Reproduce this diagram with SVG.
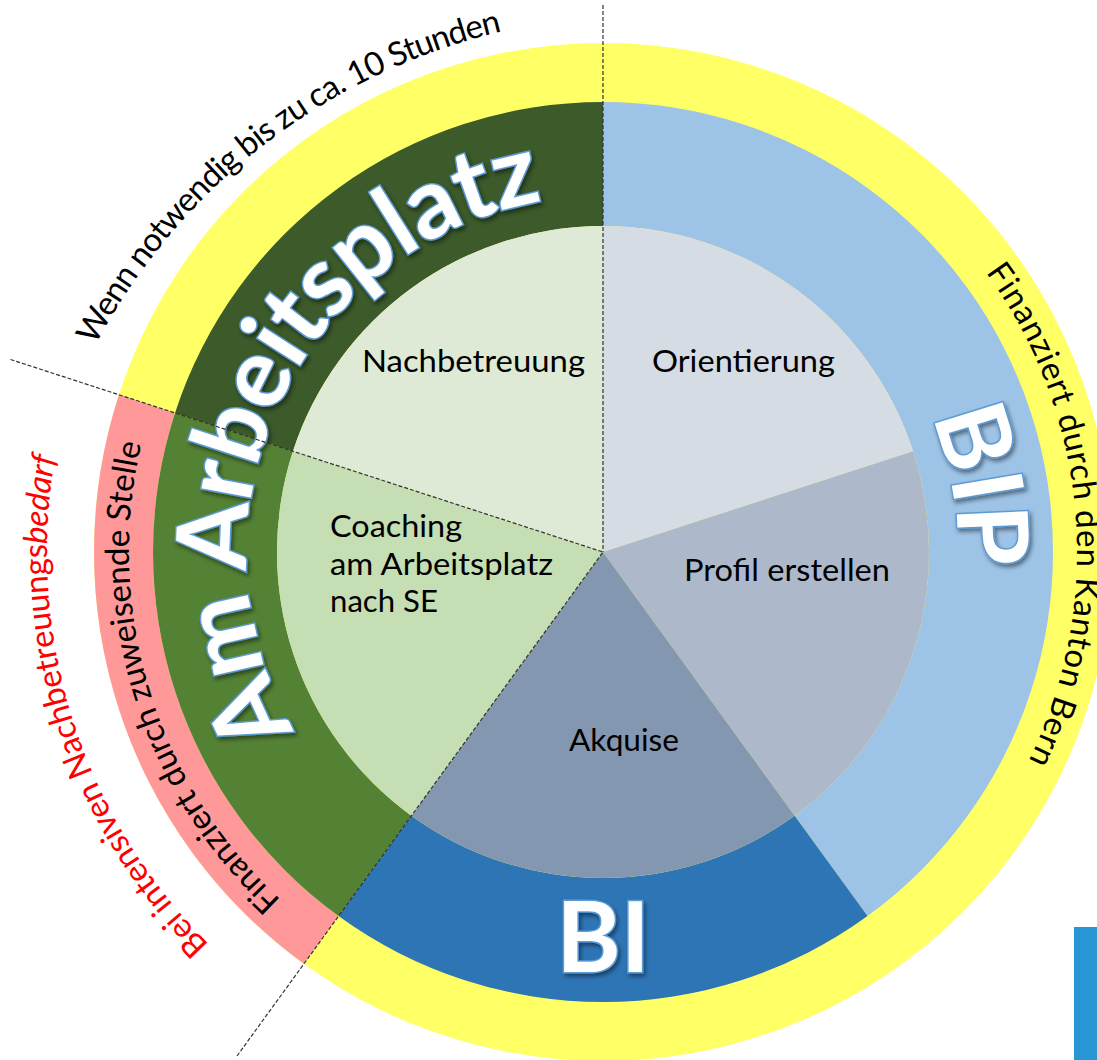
<svg xmlns="http://www.w3.org/2000/svg" width="1097" height="1060" viewBox="0 0 1097 1060">
<defs>
<style>
.lbl{font-family:Lato,"Open Sans","Liberation Sans",sans-serif;font-size:31px;fill:#000}
.arc{font-family:Lato,"Open Sans","Liberation Sans",sans-serif;font-size:33px}
.big{font-family:Lato,"Open Sans","Liberation Sans",sans-serif;font-weight:700;font-size:98px;fill:#fff;stroke:#5B9BD5;stroke-width:3;paint-order:stroke;filter:url(#sh)}
.dash{fill:none;stroke:#333;stroke-width:1.2;stroke-dasharray:4 2}
</style>
<filter id="sh" x="-20%" y="-20%" width="140%" height="140%">
<feDropShadow dx="2" dy="3" stdDeviation="2" flood-color="#000" flood-opacity="0.45"/>
</filter>
<path id="pTop" d="M28.1,556.7 A621,621 0 0 1 723.3,20.1"/>
<path id="pBei" d="M346.27,1045.18 A556,556 0 0 1 109.82,295.27"/>
<path id="pZuw" d="M380.47,970.52 A474,474 0 0 1 184.48,329.47"/>
<path id="pKan" d="M907.68,188.90 A474,474 0 0 1 966.10,856.68"/>
<path id="pAm" d="M330.29,780.83 A356,356 0 0 1 621.63,196.49"/>
<path id="pBIP" d="M806.62,261.20 A355,355 0 0 1 893.80,755.62"/>
</defs>

<g id="outer-ring">
<circle cx="603" cy="552" r="509" fill="#FFFF66"/>
<path d="M303.81,963.79 A509,509 0 0 1 118.91,394.71 L175.02,412.94 A450,450 0 0 0 338.49,916.06 Z" fill="#FF9999"/>
</g>

<g id="ring-bip">
<path d="M603,102 A450,450 0 0 1 867.51,916.06 L794.62,815.74 A326,326 0 0 0 603,226 Z" fill="#9DC3E6"/>
</g>
<g id="ring-bi">
<path d="M867.51,916.06 A450,450 0 0 1 338.49,916.06 L411.38,815.74 A326,326 0 0 0 794.62,815.74 Z" fill="#2E75B6"/>
</g>
<g id="ring-am-arbeitsplatz">
<path d="M338.49,916.06 A450,450 0 0 1 175.02,412.94 L292.95,451.26 A326,326 0 0 0 411.38,815.74 Z" fill="#548235"/>
<path d="M175.02,412.94 A450,450 0 0 1 603,102 L603,226 A326,326 0 0 0 292.95,451.26 Z" fill="#3C5A2A"/>
</g>

<g id="node-orientierung">
<path d="M603,552 L603,226 A326,326 0 0 1 913.05,451.26 Z" fill="#D5DCE4"/>
<text class="lbl" x="652" y="372" textLength="183" lengthAdjust="spacingAndGlyphs">Orientierung</text>
</g>
<g id="node-profil">
<path d="M603,552 L913.05,451.26 A326,326 0 0 1 794.62,815.74 Z" fill="#ADB9CA"/>
<text class="lbl" x="684" y="581" textLength="206" lengthAdjust="spacingAndGlyphs">Profil erstellen</text>
</g>
<g id="node-akquise">
<path d="M603,552 L794.62,815.74 A326,326 0 0 1 411.38,815.74 Z" fill="#8497B0"/>
<text class="lbl" x="569" y="751" textLength="110" lengthAdjust="spacingAndGlyphs">Akquise</text>
</g>
<g id="node-coaching">
<path d="M603,552 L411.38,815.74 A326,326 0 0 1 292.95,451.26 Z" fill="#C5DEB4"/>
<text class="lbl" x="330" y="537" textLength="132" lengthAdjust="spacingAndGlyphs">Coaching</text>
<text class="lbl" x="330" y="575" textLength="223" lengthAdjust="spacingAndGlyphs">am Arbeitsplatz</text>
<text class="lbl" x="330" y="612" textLength="108" lengthAdjust="spacingAndGlyphs">nach SE</text>
</g>
<g id="node-nachbetreuung">
<path d="M603,552 L292.95,451.26 A326,326 0 0 1 603,226 Z" fill="#DEEAD5"/>
<text class="lbl" x="362" y="372" textLength="223" lengthAdjust="spacingAndGlyphs">Nachbetreuung</text>
</g>

<g id="big-labels">
<text class="big"><textPath href="#pAm" startOffset="49%" text-anchor="middle" textLength="686" lengthAdjust="spacing">Am Arbeitsplatz</textPath></text>
<text class="big"><textPath href="#pBIP" startOffset="50%" text-anchor="middle">BIP</textPath></text>
<text class="big" x="603" y="972" text-anchor="middle">BI</text>
</g>

<g id="ring-texts">
<text class="arc" fill="#000"><textPath href="#pTop" startOffset="50%" text-anchor="middle" textLength="530" lengthAdjust="spacing">Wenn notwendig bis zu ca. 10 Stunden</textPath></text>
<text class="arc" fill="#FF0000"><textPath href="#pBei" startOffset="50%" text-anchor="middle" textLength="532" lengthAdjust="spacing">Bei intensiven Nachbetreuungs<tspan font-style="italic">bedarf</tspan></textPath></text>
<text class="arc" fill="#000"><textPath href="#pZuw" startOffset="50%" text-anchor="middle" textLength="500" lengthAdjust="spacing">Finanziert durch zuweisende Stelle</textPath></text>
<text class="arc" fill="#000"><textPath href="#pKan" startOffset="50%" text-anchor="middle" textLength="515" lengthAdjust="spacing">Finanziert durch den Kanton Bern</textPath></text>
</g>

<g id="connectors">
<line class="dash" x1="603" y1="5" x2="603" y2="552"/>
<line class="dash" x1="10.5" y1="359.5" x2="603" y2="552"/>
<line class="dash" x1="237" y1="1056" x2="603" y2="552"/>
</g>

<g id="side-bar">
<rect x="1074" y="927" width="23" height="133" fill="#2997D6"/>
</g>
</svg>
